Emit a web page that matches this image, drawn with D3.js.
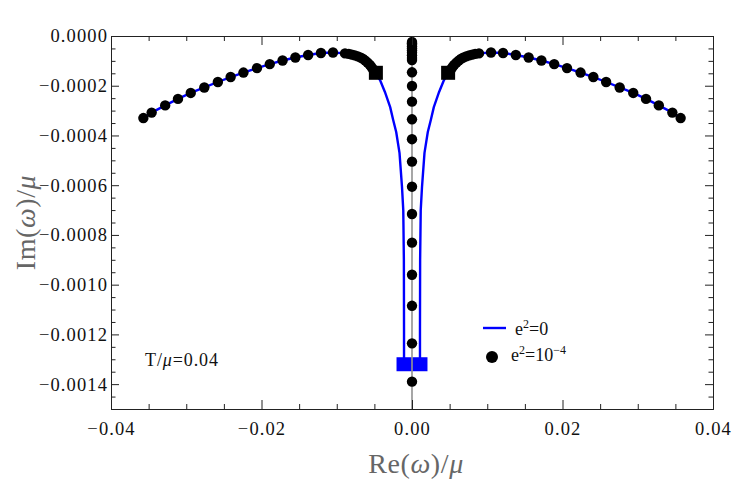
<!DOCTYPE html>
<html>
<head>
<meta charset="utf-8">
<script src="https://cdn.jsdelivr.net/npm/d3@7/dist/d3.min.js"></script>
<style>
  html, body { margin: 0; padding: 0; background: #fff; }
  svg { display: block; }
  svg text { font-family: 'Liberation Serif', 'DejaVu Serif', 'Times New Roman', serif !important; }
</style>
</head>
<body>
<svg id="chart" width="750" height="482"></svg>
<script>
// ---- data ----
const xMajorTicks = [-0.04, -0.02, 0.00, 0.02, 0.04];
const yMajorTicks = [0, -0.0002, -0.0004, -0.0006, -0.0008, -0.0010, -0.0012, -0.0014];

// e^2 = 10^-4 : left arc (black dots)
const dotsLeftX = [-0.0357,-0.0346,-0.0328,-0.0311,-0.0294,-0.0276,-0.0258,-0.0241,-0.0224,-0.0206,-0.0189,-0.0172,-0.0155,-0.0138,-0.0121,-0.0105,-0.0089,-0.0084,-0.0080,-0.0076,-0.0072,-0.0068,-0.0065,-0.0062,-0.0059,-0.0056,-0.0054,-0.0052,-0.0050];
const dotsLeftY = [-0.000330,-0.000308,-0.000279,-0.000253,-0.000229,-0.000207,-0.000185,-0.000165,-0.000147,-0.000129,-0.000113,-0.0000985,-0.0000865,-0.0000764,-0.0000684,-0.0000664,-0.000070,-0.000072,-0.000075,-0.000078,-0.000082,-0.000087,-0.000092,-0.000099,-0.000107,-0.000116,-0.000124,-0.000133,-0.000142];
// e^2 = 10^-4 : right arc (black dots)
const dotsRightX = [0.0357,0.0346,0.0328,0.0311,0.0294,0.0276,0.0258,0.0241,0.0224,0.0206,0.0189,0.0172,0.0155,0.0138,0.0121,0.0105,0.0089,0.0084,0.0080,0.0076,0.0072,0.0068,0.0065,0.0062,0.0059,0.0056,0.0054,0.0052,0.0050];
const dotsRightY = [-0.000330,-0.000308,-0.000279,-0.000253,-0.000229,-0.000207,-0.000185,-0.000165,-0.000147,-0.000129,-0.000113,-0.0000985,-0.0000865,-0.0000764,-0.0000684,-0.0000664,-0.000070,-0.000072,-0.000075,-0.000078,-0.000082,-0.000087,-0.000092,-0.000099,-0.000107,-0.000116,-0.000124,-0.000133,-0.000142];
// e^2 = 10^-4 : purely imaginary modes (black dots on Re = 0)
const dotsCenterY = [-0.000024,-0.000029,-0.000035,-0.000042,-0.000050,-0.000058,-0.000067,-0.000077,-0.000088,-0.000097,-0.000146,-0.000201,-0.000264,-0.000335,-0.000415,-0.000505,-0.000606,-0.000716,-0.000831,-0.000960,-0.001085,-0.001236,-0.001390];
// e^2 = 10^-4 : end markers (black squares)
const squaresBlackX = [-0.0048, 0.0048];
const squaresBlackY = [-0.000148, -0.000148];

// e^2 = 0 : blue curve, left branch
const blueLeftX = [-0.0357,-0.0346,-0.0328,-0.0311,-0.0294,-0.0276,-0.0258,-0.0241,-0.0224,-0.0206,-0.0189,-0.0172,-0.0155,-0.0138,-0.0121,-0.0105,-0.0089,-0.0080,-0.0072,-0.0065,-0.0059,-0.0054,-0.0050,-0.0048,-0.00425,-0.0036,-0.0029,-0.0025,-0.0021,-0.00166,-0.00133,-0.00116,-0.00108,-0.00106,-0.00106];
const blueLeftY = [-0.000330,-0.000308,-0.000279,-0.000253,-0.000229,-0.000207,-0.000185,-0.000165,-0.000147,-0.000129,-0.000113,-0.0000985,-0.0000865,-0.0000764,-0.0000684,-0.0000664,-0.000070,-0.000075,-0.000082,-0.000092,-0.000107,-0.000124,-0.000142,-0.000149,-0.000177,-0.000225,-0.000286,-0.000338,-0.000386,-0.000470,-0.000607,-0.000700,-0.000900,-0.001180,-0.001320];
// e^2 = 0 : blue curve, right branch
const blueRightX = [0.0357,0.0346,0.0328,0.0311,0.0294,0.0276,0.0258,0.0241,0.0224,0.0206,0.0189,0.0172,0.0155,0.0138,0.0121,0.0105,0.0089,0.0080,0.0072,0.0065,0.0059,0.0054,0.0050,0.0048,0.00425,0.0036,0.0029,0.0025,0.0021,0.00166,0.00133,0.00116,0.00108,0.00106,0.00106];
const blueRightY = [-0.000330,-0.000308,-0.000279,-0.000253,-0.000229,-0.000207,-0.000185,-0.000165,-0.000147,-0.000129,-0.000113,-0.0000985,-0.0000865,-0.0000764,-0.0000684,-0.0000664,-0.000070,-0.000075,-0.000082,-0.000092,-0.000107,-0.000124,-0.000142,-0.000149,-0.000177,-0.000225,-0.000286,-0.000338,-0.000386,-0.000470,-0.000607,-0.000700,-0.000900,-0.001180,-0.001320];
// e^2 = 0 : end markers (blue squares)
const squaresBlueX = [-0.00106, 0.00106];
const squaresBlueY = [-0.00132, -0.00132];

// ---- layout ----
const svg = d3.select("#chart");
const L = 111, R = 713, T = 36, B = 409;
const x = d3.scaleLinear().domain([-0.04, 0.04]).range([L, R]);
const y = d3.scaleLinear().domain([-0.0015, 0]).range([B, T]);

const xMinor = d3.range(-0.04, 0.04001, 0.005).filter(v => !xMajorTicks.some(m => Math.abs(m - v) < 1e-9));
const yMinor = d3.range(-0.0015, 0.000001, 0.00005).filter(v => !yMajorTicks.some(m => Math.abs(m - v) < 1e-10));

const axisColor = "#222";
const SERIF = "'Liberation Serif', 'DejaVu Serif', serif";

svg.append("defs").append("clipPath").attr("id", "clip")
  .append("rect").attr("x", L).attr("y", T).attr("width", R - L).attr("height", B - T);

const plot = svg.append("g").attr("clip-path", "url(#clip)");

// blue curve
const line = d3.line().x(d => x(d[0])).y(d => y(d[1]));
[[blueLeftX, blueLeftY], [blueRightX, blueRightY]].forEach(([xs, ys]) => {
  plot.append("path")
    .datum(xs.map((v, i) => [v, ys[i]]))
    .attr("d", line)
    .attr("fill", "none")
    .attr("stroke", "#0000ff")
    .attr("stroke-width", 2.4)
    .attr("stroke-linejoin", "round");
});

// blue squares
const sb = 15;
plot.selectAll("rect.blue").data(squaresBlueX.map((v, i) => [v, squaresBlueY[i]]))
  .join("rect").attr("class", "blue")
  .attr("x", d => x(d[0]) - sb / 2).attr("y", d => y(d[1]) - 7)
  .attr("width", sb).attr("height", 14)
  .attr("fill", "#0000ff");

// vertical line at Re = 0
svg.append("line")
  .attr("x1", x(0)).attr("x2", x(0)).attr("y1", T).attr("y2", B)
  .attr("stroke", "#777").attr("stroke-width", 1.3);

// black dots
const allDots = []
  .concat(dotsLeftX.map((v, i) => [v, dotsLeftY[i]]))
  .concat(dotsRightX.map((v, i) => [v, dotsRightY[i]]))
  .concat(dotsCenterY.map(v => [0, v]));
svg.append("g").selectAll("circle").data(allDots).join("circle")
  .attr("cx", d => x(d[0])).attr("cy", d => y(d[1])).attr("r", 5.2)
  .attr("fill", "#000");

// black squares
const sk = 14;
svg.append("g").selectAll("rect").data(squaresBlackX.map((v, i) => [v, squaresBlackY[i]]))
  .join("rect")
  .attr("x", d => x(d[0]) - sk / 2).attr("y", d => y(d[1]) - sk / 2)
  .attr("width", sk).attr("height", sk).attr("fill", "#000");

// ---- axes ----
function styleAxis(g) {
  g.attr("font-family", SERIF);
  g.select(".domain").attr("stroke", axisColor).attr("stroke-width", 1);
  g.selectAll(".tick line").attr("stroke", axisColor).attr("stroke-width", 1);
  g.selectAll(".tick text").attr("fill", "#111").attr("font-size", 18.5)
    .style("font-family", SERIF).attr("letter-spacing", "1.1px");
}
const fmtX = d3.format(".2f"), fmtY = d3.format(".4f");

svg.append("g").attr("transform", `translate(0,${B})`)
  .call(d3.axisBottom(x).tickValues(xMajorTicks).tickFormat(fmtX).tickSizeInner(-9).tickSizeOuter(0).tickPadding(13))
  .call(styleAxis);
svg.append("g").attr("transform", `translate(0,${B})`)
  .call(d3.axisBottom(x).tickValues(xMinor).tickFormat("").tickSizeInner(-5).tickSizeOuter(0))
  .call(styleAxis);
svg.append("g").attr("transform", `translate(0,${T})`)
  .call(d3.axisTop(x).tickValues(xMajorTicks).tickFormat("").tickSizeInner(-9).tickSizeOuter(0))
  .call(styleAxis);
svg.append("g").attr("transform", `translate(0,${T})`)
  .call(d3.axisTop(x).tickValues(xMinor).tickFormat("").tickSizeInner(-5).tickSizeOuter(0))
  .call(styleAxis);
svg.append("g").attr("transform", `translate(${L},0)`)
  .call(d3.axisLeft(y).tickValues(yMajorTicks).tickFormat(fmtY).tickSizeInner(-8).tickSizeOuter(0).tickPadding(3))
  .call(styleAxis);
svg.append("g").attr("transform", `translate(${L},0)`)
  .call(d3.axisLeft(y).tickValues(yMinor).tickFormat("").tickSizeInner(-4.5).tickSizeOuter(0))
  .call(styleAxis);
svg.append("g").attr("transform", `translate(${R},0)`)
  .call(d3.axisRight(y).tickValues(yMajorTicks).tickFormat("").tickSizeInner(-8).tickSizeOuter(0))
  .call(styleAxis);
svg.append("g").attr("transform", `translate(${R},0)`)
  .call(d3.axisRight(y).tickValues(yMinor).tickFormat("").tickSizeInner(-4.5).tickSizeOuter(0))
  .call(styleAxis);

// ---- axis titles ----
const xt = svg.append("text").attr("x", (L + R) / 2 + 4).attr("y", 473)
  .attr("text-anchor", "middle").attr("font-size", 28).attr("fill", "#666")
  .style("font-family", SERIF).attr("letter-spacing", "0.6px");
xt.append("tspan").text("Re(");
xt.append("tspan").attr("font-style", "italic").text("ω");
xt.append("tspan").text(")/");
xt.append("tspan").attr("font-style", "italic").text("μ");

const yt = svg.append("text").attr("transform", `translate(35,${(T + B) / 2}) rotate(-90)`)
  .attr("text-anchor", "middle").attr("font-size", 28).attr("fill", "#666")
  .style("font-family", SERIF).attr("letter-spacing", "0.6px");
yt.append("tspan").text("Im(");
yt.append("tspan").attr("font-style", "italic").text("ω");
yt.append("tspan").text(")/");
yt.append("tspan").attr("font-style", "italic").text("μ");

// ---- annotation ----
const ann = svg.append("text").attr("x", 145).attr("y", 366).attr("font-size", 18)
  .attr("fill", "#111").style("font-family", SERIF).attr("letter-spacing", "0.9px");
ann.append("tspan").text("T/");
ann.append("tspan").attr("font-style", "italic").text("μ");
ann.append("tspan").text("=0.04");

// ---- legend ----
const lg = svg.append("g");
lg.append("line").attr("x1", 483).attr("x2", 506).attr("y1", 328).attr("y2", 328)
  .attr("stroke", "#0000ff").attr("stroke-width", 2.4);
const t1 = lg.append("text").attr("x", 515).attr("y", 335).attr("font-size", 18)
  .attr("fill", "#111").style("font-family", SERIF);
t1.append("tspan").text("e");
t1.append("tspan").attr("font-size", 12).attr("dy", -7).text("2");
t1.append("tspan").attr("dy", 7).text("=0");

lg.append("circle").attr("cx", 492).attr("cy", 357).attr("r", 6).attr("fill", "#000");
const t2 = lg.append("text").attr("x", 511).attr("y", 361).attr("font-size", 18)
  .attr("fill", "#111").style("font-family", SERIF);
t2.append("tspan").text("e");
t2.append("tspan").attr("font-size", 12).attr("dy", -7).text("2");
t2.append("tspan").attr("dy", 7).text("=10");
t2.append("tspan").attr("font-size", 12).attr("dy", -7).text("−4");
</script>
</body>
</html>
